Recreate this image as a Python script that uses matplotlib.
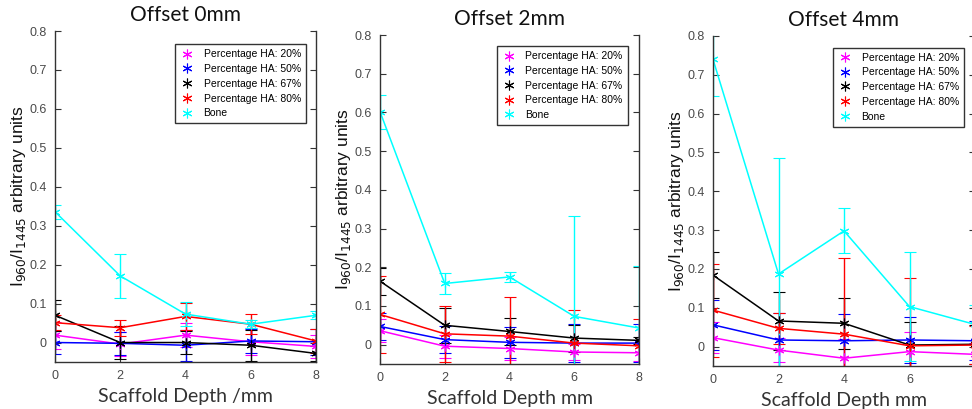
import matplotlib
matplotlib.use("Agg")
import matplotlib.pyplot as plt
import numpy as np

depth = [0, 2, 4, 6, 8]
series_names = ["Percentage HA: 20%", "Percentage HA: 50%", "Percentage HA: 67%",
                "Percentage HA: 80%", "Bone"]
series_colors = ["#ff00ff", "#0000ff", "#000000", "#ff0000", "#00ffff"]
titles = ["Offset 0mm", "Offset 2mm", "Offset 4mm"]
xlabels = ["Scaffold Depth /mm", "Scaffold Depth mm", "Scaffold Depth mm"]
ylabel = r"I$_{960}$/I$_{1445}$ arbitrary units"
yticks = [0, 0.1, 0.2, 0.3, 0.4, 0.5, 0.6, 0.7, 0.8]
ytick_labels = ["0", "0.1", "0.2", "0.3", "0.4", "0.5", "0.6", "0.7", "0.8"]

# Offset 0mm
off0_ha20 = [0.019, -0.004, 0.019, 0.002, -0.010]
off0_ha20_err = [0.035, 0.030, 0.030, 0.035, 0.030]
off0_ha50 = [0.000, -0.002, -0.007, 0.004, 0.002]
off0_ha50_err = [0.030, 0.030, 0.040, 0.030, 0.033]
off0_ha67 = [0.070, 0.000, 0.000, -0.007, -0.028]
off0_ha67_err = [0.040, 0.042, 0.030, 0.040, 0.020]
off0_ha80 = [0.051, 0.038, 0.067, 0.047, 0.004]
off0_ha80_err = [0.020, 0.020, 0.035, 0.025, 0.030]
off0_bone = [0.336, 0.171, 0.073, 0.047, 0.070]
off0_bone_err = [0.018, 0.057, 0.030, 0.010, 0.010]

# Offset 2mm
off2_ha20 = [0.036, -0.004, -0.010, -0.019, -0.021]
off2_ha20_err = [0.030, 0.030, 0.030, 0.020, 0.020]
off2_ha50 = [0.047, 0.013, 0.006, 0.004, 0.004]
off2_ha50_err = [0.035, 0.035, 0.040, 0.050, 0.050]
off2_ha67 = [0.164, 0.050, 0.034, 0.017, 0.011]
off2_ha67_err = [0.035, 0.045, 0.035, 0.035, 0.010]
off2_ha80 = [0.078, 0.028, 0.022, 0.004, -0.003]
off2_ha80_err = [0.100, 0.072, 0.100, 0.085, 0.068]
off2_bone = [0.602, 0.158, 0.175, 0.073, 0.043]
off2_bone_err = [0.044, 0.028, 0.013, 0.260, 0.160]

# Offset 4mm
off4_ha20 = [0.023, -0.009, -0.030, -0.013, -0.020]
off4_ha20_err = [0.040, 0.030, 0.050, 0.050, 0.030]
off4_ha50 = [0.056, 0.017, 0.015, 0.017, 0.015]
off4_ha50_err = [0.065, 0.070, 0.068, 0.060, 0.050]
off4_ha67 = [0.184, 0.066, 0.060, 0.004, 0.006]
off4_ha67_err = [0.060, 0.075, 0.065, 0.060, 0.050]
off4_ha80 = [0.094, 0.047, 0.032, 0.002, 0.004]
off4_ha80_err = [0.120, 0.040, 0.195, 0.175, 0.050]
off4_bone = [0.740, 0.187, 0.298, 0.103, 0.057]
off4_bone_err = [0.095, 0.300, 0.058, 0.140, 0.050]

panels = [
    [(off0_ha20, off0_ha20_err), (off0_ha50, off0_ha50_err), (off0_ha67, off0_ha67_err),
     (off0_ha80, off0_ha80_err), (off0_bone, off0_bone_err)],
    [(off2_ha20, off2_ha20_err), (off2_ha50, off2_ha50_err), (off2_ha67, off2_ha67_err),
     (off2_ha80, off2_ha80_err), (off2_bone, off2_bone_err)],
    [(off4_ha20, off4_ha20_err), (off4_ha50, off4_ha50_err), (off4_ha67, off4_ha67_err),
     (off4_ha80, off4_ha80_err), (off4_bone, off4_bone_err)],
]

fig = plt.figure(figsize=(9.72, 4.09), dpi=100)
W, H = 972.0, 409.0
# axes boxes in pixels: left, top, right, bottom
boxes = [(55, 31, 316, 362), (380, 35, 639, 364), (713, 36, 975, 366)]
legend_anchor = [(0.962, 0.96), (0.957, 0.966), (0.958, 0.965)]
xtick_sets = [depth, depth, depth[:-1]]

axis_col = "#333333"
tick_col = "#4a4a4a"
asterisk = (6, 2, 0)

for i, (series, box) in enumerate(zip(panels, boxes)):
    l, t, r, b = box
    ax = fig.add_axes([l / W, 1 - b / H, (r - l) / W, (b - t) / H])
    for (vals, errs), name, col in zip(series, series_names, series_colors):
        ax.errorbar(depth, vals, yerr=errs, color=col, lw=1.1, elinewidth=1.0,
                    capsize=4, capthick=1.0, marker=asterisk, markersize=7,
                    markeredgewidth=0.8, label=name)
    ax.set_xlim(0, 8)
    ax.set_ylim(-0.05, 0.8)
    ax.set_yticks(yticks)
    ax.set_yticklabels(ytick_labels)
    ax.set_xticks(xtick_sets[i])
    ax.tick_params(direction="in", length=4, width=0.8, colors=axis_col,
                   labelcolor=tick_col, labelsize=9, right=True, pad=6)
    for lab in ax.get_xticklabels() + ax.get_yticklabels():
        lab.set_family("Liberation Sans")
    ax.spines["top"].set_visible(False)
    for s in ["left", "right", "bottom"]:
        ax.spines[s].set_color(axis_col)
        ax.spines[s].set_linewidth(1.0)
    ax.set_title(titles[i], fontsize=15, family="Lato", color="#111111", pad=7)
    ax.set_xlabel(xlabels[i], fontsize=14, family="Lato", color="#333333", labelpad=4)
    ax.set_ylabel(ylabel, fontsize=12.5, family="Liberation Sans", color="#111111", labelpad=1)
    handles, labels = ax.get_legend_handles_labels()
    handles = [h[0] for h in handles]
    leg = ax.legend(handles, labels, loc="upper right", bbox_to_anchor=legend_anchor[i],
                    borderaxespad=0, frameon=True, fancybox=False,
                    edgecolor="#333333", framealpha=1, handlelength=1.2,
                    handletextpad=1.0, labelspacing=0.45, borderpad=0.5,
                    prop={"family": "Liberation Sans", "size": 7.5})
    for h in leg.legend_handles:
        h.set_linestyle("none")
    leg.get_frame().set_linewidth(1.0)

fig.savefig("out.png", dpi=100)
